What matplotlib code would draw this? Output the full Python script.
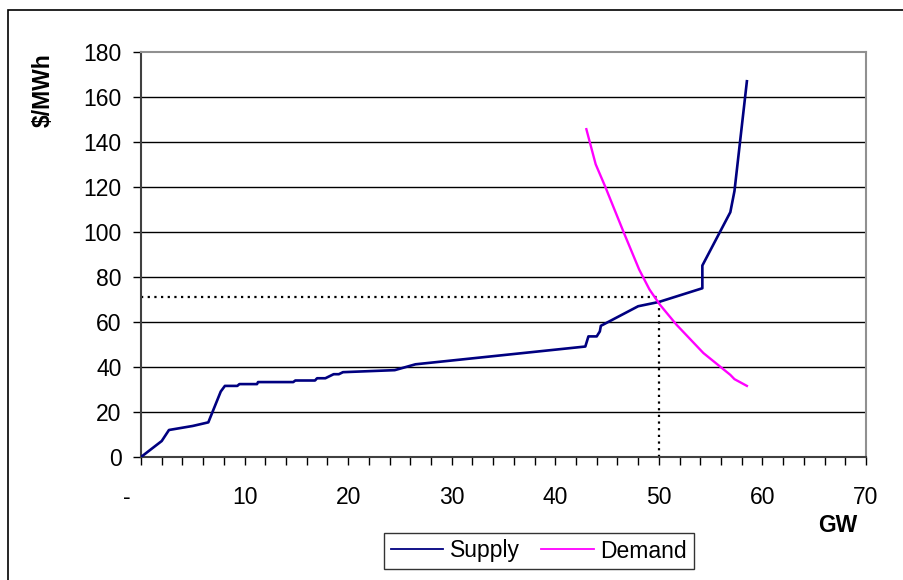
import matplotlib
matplotlib.use('Agg')
import matplotlib.pyplot as plt
import matplotlib.transforms as mtransforms
from matplotlib.patches import Rectangle

plt.rcParams['font.family'] = ['Liberation Sans', 'DejaVu Sans']

# --- data ---
supply_gw = [0.0, 2.0, 2.7, 5.0, 6.5, 7.7, 8.1, 9.3, 9.5, 11.2, 11.3, 14.7, 14.9,
             16.8, 17.0, 17.8, 18.6, 19.1, 19.5, 24.5, 26.5, 42.9, 43.2, 44.0,
             44.3, 44.4, 48.0, 50.0, 54.2, 54.2, 56.9, 57.3, 58.5]
supply_price = [0.0, 7.1, 12.0, 13.8, 15.4, 29.1, 31.6, 31.6, 32.4, 32.4, 33.3, 33.3, 34.0,
                34.0, 35.0, 35.0, 36.8, 36.8, 37.7, 38.6, 41.2, 49.1, 53.6, 53.6,
                55.8, 58.3, 67.0, 68.9, 75.0, 85.1, 108.8, 118.2, 167.0]

demand_gw = [43.0, 43.9, 44.8, 46.6, 48.1, 49.1, 50.1, 51.7, 54.3, 56.9, 57.3, 58.5]
demand_price = [145.7, 130.1, 120.4, 99.9, 83.3, 74.4, 67.7, 58.8, 46.2, 36.5, 34.6, 31.6]

clear_gw = 50
clear_price = 71

x_ticks = [0, 10, 20, 30, 40, 50, 60, 70]
x_labels = ['-', '10', '20', '30', '40', '50', '60', '70']
y_ticks = [0, 20, 40, 60, 80, 100, 120, 140, 160, 180]

FS = 16.5

W, H = 904, 580
fig = plt.figure(figsize=(W / 100, H / 100), dpi=100)
ax = fig.add_axes([141 / W, 1 - 457 / H, (866 - 141) / W, (457 - 52) / H])

# outer chart border (only top/left fall inside the picture)
fig.patches.append(Rectangle((8 / W, -0.1), 1.1, (H - 10) / H + 0.1,
                             transform=fig.transFigure, fill=False,
                             edgecolor='black', linewidth=1.2, zorder=0))

for y in y_ticks[1:-1]:
    ax.axhline(y, color='black', linewidth=1.0, zorder=1)

ax.plot([0, clear_gw], [clear_price, clear_price], color='black', linestyle=(0, (1, 2)),
        linewidth=1.6, zorder=2)
ax.plot([clear_gw, clear_gw], [0, clear_price], color='black', linestyle=(0, (1, 2)),
        linewidth=1.6, zorder=2)

ax.plot(supply_gw, supply_price, color='#000080', linewidth=1.9, label='Supply', zorder=3)
ax.plot(demand_gw, demand_price, color='#FF00FF', linewidth=1.7, label='Demand', zorder=3)

ax.set_xlim(0, 70)
ax.set_ylim(0, 180)
ax.set_yticks(y_ticks)
ax.set_xticks(x_ticks)
ax.set_xticklabels(x_labels)
ax.set_xticks(range(0, 71, 2), minor=True)
ax.tick_params(axis='both', which='both', direction='out', labelsize=FS, width=1.0,
               colors='black')
ax.tick_params(axis='x', which='both', length=6, pad=15)
ax.tick_params(axis='y', length=6, pad=8)

# excel puts the "-" for zero a bit left of the tick
lab0 = ax.get_xticklabels()[0]
lab0.set_transform(lab0.get_transform() + mtransforms.ScaledTranslation(-0.14, 0, fig.dpi_scale_trans))

for s in ['left', 'bottom']:
    ax.spines[s].set_color('#404040')
    ax.spines[s].set_linewidth(1.5)
for s in ['top', 'right']:
    ax.spines[s].set_color('#909090')
    ax.spines[s].set_linewidth(1.5)

fig.text(43 / W, 1 - 90 / H, '$/MWh', rotation=90, fontsize=16.5, fontweight='bold',
         ha='center', va='center')
fig.text(838 / W, 1 - 526 / H, 'GW', fontsize=16.5, fontweight='bold', ha='center', va='center')

leg = fig.legend(loc='center', bbox_to_anchor=(539 / W, 1 - 551 / H), ncol=2, fontsize=FS,
                 frameon=True, fancybox=False, edgecolor='black', handlelength=2.3,
                 handletextpad=0.3, columnspacing=0.9, borderpad=0.3)
leg.get_frame().set_linewidth(1.0)
for h in leg.get_lines():
    h.set_linewidth(1.3)

fig.savefig('out.png', dpi=100)
